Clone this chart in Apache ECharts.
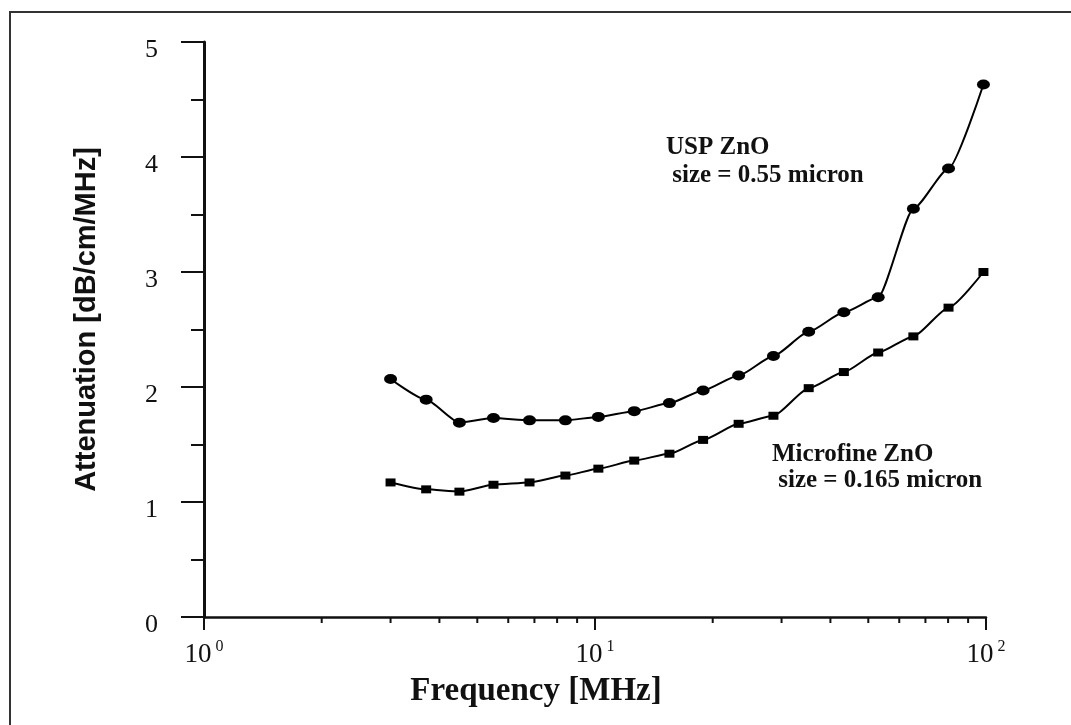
<!DOCTYPE html>
<html>
<head>
<meta charset="utf-8">
<script src="https://cdn.jsdelivr.net/npm/echarts@6/dist/echarts.min.js"></script>
<style>
  html, body { margin: 0; padding: 0; background: #fff; }
  #chart { width: 1071px; height: 725px; }
</style>
</head>
<body>
<div id="chart"></div>
<script>
// Frequency in MHz
const frequency = [3.0, 3.7, 4.5, 5.5, 6.8, 8.4, 10.2, 12.6, 15.5, 18.9, 23.3, 28.6, 35.2, 43.3, 53.0, 65.2, 80.2, 98.5];
// Attenuation [dB/cm/MHz]
const uspZnO = [2.07, 1.89, 1.69, 1.73, 1.71, 1.71, 1.74, 1.79, 1.86, 1.97, 2.10, 2.27, 2.48, 2.65, 2.78, 3.55, 3.90, 4.63];
const microfineZnO = [1.17, 1.11, 1.09, 1.15, 1.17, 1.23, 1.29, 1.36, 1.42, 1.54, 1.68, 1.75, 1.99, 2.13, 2.30, 2.44, 2.69, 3.00];
// Minor tick positions on the log frequency axis
const xMinorTicks = [2, 3, 4, 5, 6, 7, 8, 9, 20, 30, 40, 50, 60, 70, 80, 90];
const uspLabel = ['USP ZnO', ' size = 0.55 micron'];
const microLabel = ['Microfine ZnO', ' size = 0.165 micron'];

const serif = '"Liberation Serif", "Times New Roman", serif';
const sans = '"Liberation Sans", Arial, sans-serif';

const chart = echarts.init(document.getElementById('chart'), null, { renderer: 'canvas' });

const option = {
  backgroundColor: '#fff',
  animation: false,
  grid: { left: 204, right: 85, top: 42, bottom: 108, containLabel: false },
  xAxis: {
    type: 'log',
    logBase: 10,
    min: 1,
    max: 100,
    name: 'Frequency [MHz]',
    nameLocation: 'middle',
    nameGap: 58,
    nameTextStyle: { fontFamily: serif, fontWeight: 'bold', fontSize: 33, color: '#111', padding: [0, 118, 0, 0] },
    axisLine: { show: true, lineStyle: { color: '#111', width: 2.5 } },
    axisTick: { show: true, inside: false, length: 13, lineStyle: { color: '#111', width: 2 } },
    splitLine: { show: false },
    axisLabel: {
      margin: 22,
      formatter: function (v) {
        const e = Math.round(Math.log10(v));
        return '{b|10}{s|' + e + '}';
      },
      rich: {
        b: { fontFamily: serif, fontSize: 27, color: '#111' },
        s: { fontFamily: serif, fontSize: 16, color: '#111', padding: [0, 0, 16, 4] }
      }
    }
  },
  yAxis: {
    type: 'value',
    min: 0,
    max: 5,
    interval: 1,
    name: 'Attenuation [dB/cm/MHz]',
    nameLocation: 'middle',
    nameRotate: 90,
    nameGap: 103,
    nameTextStyle: { fontFamily: sans, fontWeight: 'bold', fontSize: 29, color: '#111', padding: [0, 0, 0, 20] },
    axisLine: { show: true, lineStyle: { color: '#111', width: 3 } },
    axisTick: { show: true, inside: false, length: 23, lineStyle: { color: '#111', width: 2 } },
    minorTick: { show: true, splitNumber: 2, length: 13, lineStyle: { color: '#111', width: 2 } },
    splitLine: { show: false },
    minorSplitLine: { show: false },
    axisLabel: { margin: 46, fontFamily: serif, fontSize: 26, color: '#111', verticalAlign: 'top', lineHeight: 16 }
  },
  series: [
    {
      name: 'USP ZnO',
      type: 'line',
      data: frequency.map((f, i) => [f, uspZnO[i]]),
      smooth: 0.2,
      smoothMonotone: 'x',
      symbol: 'circle',
      symbolSize: [13, 10],
      itemStyle: { color: '#000' },
      lineStyle: { color: '#000', width: 2 },
      z: 3
    },
    {
      name: 'Microfine ZnO',
      type: 'line',
      data: frequency.map((f, i) => [f, microfineZnO[i]]),
      smooth: 0.2,
      smoothMonotone: 'x',
      symbol: 'rect',
      symbolSize: [10, 8],
      itemStyle: { color: '#000' },
      lineStyle: { color: '#000', width: 2 },
      z: 3
    },
    {
      name: 'minorTicks',
      type: 'custom',
      clip: false,
      silent: true,
      data: xMinorTicks.map(v => [v, 0]),
      encode: { x: 0, y: 1 },
      renderItem: function (params, api) {
        const p = api.coord([api.value(0), 0]);
        return {
          type: 'line',
          shape: { x1: p[0], y1: p[1], x2: p[0], y2: p[1] + 6 },
          style: { stroke: '#111', lineWidth: 2 }
        };
      },
      z: 1
    }
  ],
  graphic: [
    { type: 'line', shape: { x1: 9, y1: 12, x2: 1071, y2: 12 }, style: { stroke: '#333', lineWidth: 2 } },
    { type: 'line', shape: { x1: 10, y1: 12, x2: 10, y2: 725 }, style: { stroke: '#333', lineWidth: 2 } },
    { type: 'text', left: 666, top: 135, style: { text: uspLabel[0], font: 'bold 25px ' + serif, fill: '#111' } },
    { type: 'text', left: 666, top: 163, style: { text: uspLabel[1], font: 'bold 25px ' + serif, fill: '#111' } },
    { type: 'text', left: 772, top: 442, style: { text: microLabel[0], font: 'bold 25px ' + serif, fill: '#111' } },
    { type: 'text', left: 772, top: 468, style: { text: microLabel[1], font: 'bold 25px ' + serif, fill: '#111' } }
  ]
};

chart.setOption(option);
</script>
</body>
</html>
